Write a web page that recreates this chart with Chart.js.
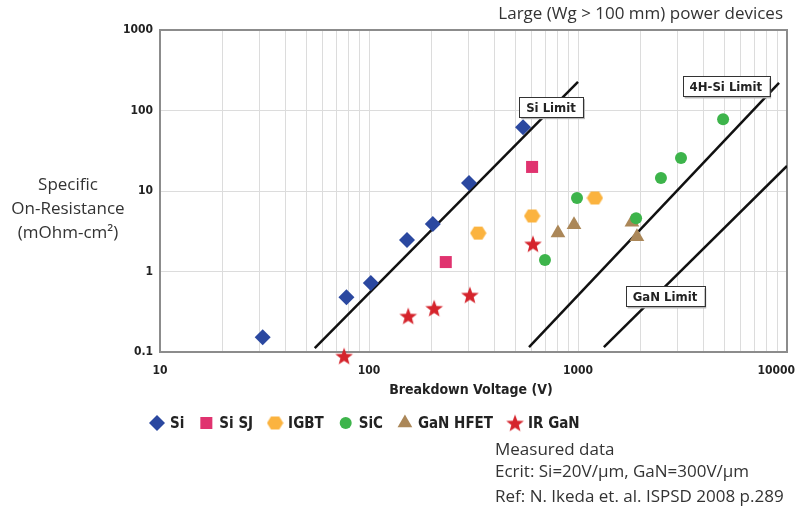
<!DOCTYPE html>
<html>
<head>
<meta charset="utf-8">
<script src="https://cdn.jsdelivr.net/npm/chart.js@4.4.1/dist/chart.umd.min.js"></script>
<style>
  html, body { margin: 0; padding: 0; background: #fff; }
  #wrap { position: relative; width: 798px; height: 518px; overflow: hidden; }
  #chart { position: absolute; left: 0; top: 0; }
  .txt { position: absolute; font-family: 'Open Sans', 'Noto Sans', sans-serif; color: #333; font-size: 17px; white-space: nowrap; line-height: 1; }
  .bold { font-family: 'Liberation Sans Narrow', 'DejaVu Sans Condensed', sans-serif; font-weight: bold; color: #222; }
</style>
</head>
<body>
<div id="wrap">
  <canvas id="chart" width="798" height="518"></canvas>
  <div class="txt" style="right:15px; top:4px;">Large (Wg &gt; 100 mm) power devices</div>
  <div class="txt" style="left:0; width:136px; top:172px; text-align:center; line-height:24px;">Specific<br>On-Resistance<br>(mOhm-cm²)</div>
  <div class="txt bold" style="left:371px; width:200px; top:382px; text-align:center; font-size:14px;">Breakdown Voltage (V)</div>
  <div class="txt" style="left:495px; top:440px;">Measured data</div>
  <div class="txt" style="left:495px; top:462px;">Ecrit: Si=20V/µm, GaN=300V/µm</div>
  <div class="txt" style="left:495px; top:487px;">Ref: N. Ikeda et. al. ISPSD 2008 p.289</div>
</div>
<script>
// ------- Data (breakdown voltage V, specific on-resistance mOhm-cm2) -------
const siVolt = [31, 78, 102, 152, 202, 301, 546];
const siRes = [0.153, 0.48, 0.72, 2.46, 3.9, 12.6, 62];
const sjVolt = [233, 603];
const sjRes = [1.31, 19.9];
const igbtVolt = [333, 603, 1205];
const igbtRes = [3.0, 4.9, 8.2];
const sicVolt = [695, 989, 1897, 2494, 3111, 4946];
const sicRes = [1.39, 8.2, 4.6, 14.5, 25.7, 78];
const hfetVolt = [802, 957, 1811, 1914];
const hfetRes = [3.0, 3.8, 4.1, 2.7];
const irVolt = [76, 154, 205, 304, 609];
const irRes = [0.089, 0.28, 0.35, 0.51, 2.2];

// theoretical limit lines (end points)
const siLimitVolt = [55, 1000];
const siLimitRes = [0.112, 226];
const sicLimitVolt = [583, 9160];
const sicLimitRes = [0.115, 220];
const ganLimitVolt = [1330, 10000];
const ganLimitRes = [0.115, 20.5];

const xTicks = [10, 20, 30, 40, 50, 60, 70, 80, 90, 100, 200, 300, 400, 500, 600, 700, 800, 900,
  1000, 2000, 3000, 4000, 5000, 6000, 7000, 8000, 9000, 10000];
const yTicks = [0.1, 1, 10, 100, 1000];

const limitNames = ['Si Limit', '4H-Si Limit', 'GaN Limit'];
const limitLabelVolt = [743, 5100, 2606];
const limitLabelRes = [110, 199, 0.49];

function pts(xs, ys) {
  return xs.map((x, i) => ({ x: x, y: ys[i] }));
}

// ------- custom markers -------
function hexMarker(color) {
  const c = document.createElement('canvas');
  c.width = 17; c.height = 15;
  const g = c.getContext('2d');
  g.fillStyle = color;
  g.beginPath();
  for (let i = 0; i < 6; i++) {
    const a = i * Math.PI / 3;
    const px = 8.5 + 8.2 * Math.cos(a);
    const py = 7.5 + 7.6 * Math.sin(a);
    if (i === 0) g.moveTo(px, py); else g.lineTo(px, py);
  }
  g.closePath();
  g.fill();
  return c;
}

function starMarker(color) {
  const c = document.createElement('canvas');
  c.width = 20; c.height = 19;
  const g = c.getContext('2d');
  g.fillStyle = color;
  g.beginPath();
  for (let i = 0; i < 10; i++) {
    const r = i % 2 === 0 ? 9.3 : 3.9;
    const a = -Math.PI / 2 + i * Math.PI / 5;
    const px = 10 + r * Math.cos(a);
    const py = 10.3 + r * Math.sin(a);
    if (i === 0) g.moveTo(px, py); else g.lineTo(px, py);
  }
  g.closePath();
  g.fill();
  return c;
}

const boldFamily = "'Liberation Sans Narrow', 'DejaVu Sans Condensed', sans-serif";
const tickFont = { family: boldFamily, size: 12, weight: 'bold' };

function markerSet(label, data, color, style, radius) {
  return {
    label: label,
    data: data,
    backgroundColor: color,
    borderWidth: 0,
    pointStyle: style,
    pointRadius: radius,
    pointHoverRadius: radius,
    clip: false,
    isMarker: true
  };
}

function limitSet(data) {
  return {
    label: '',
    data: data,
    showLine: true,
    borderColor: '#111',
    borderWidth: 2.5,
    pointRadius: 0,
    pointHoverRadius: 0,
    isMarker: false
  };
}

// ------- plugins -------
const frame = {
  id: 'frame',
  beforeDatasetsDraw(chart) {
    const a = chart.chartArea;
    const ctx = chart.ctx;
    ctx.save();
    ctx.strokeStyle = '#8c8c8c';
    ctx.lineWidth = 2;
    ctx.strokeRect(a.left, a.top, a.right - a.left, a.bottom - a.top);
    ctx.restore();
  }
};

const limitLabels = {
  id: 'limitLabels',
  afterDatasetsDraw(chart) {
    const ctx = chart.ctx;
    const xs = chart.scales.x, ys = chart.scales.y;
    ctx.save();
    ctx.font = 'bold 13px ' + boldFamily;
    ctx.textAlign = 'center';
    ctx.textBaseline = 'middle';
    limitNames.forEach((name, i) => {
      const cx = xs.getPixelForValue(limitLabelVolt[i]);
      const cy = ys.getPixelForValue(limitLabelRes[i]);
      const w = ctx.measureText(name).width + 14;
      const h = 20;
      ctx.fillStyle = '#b5b5b5';
      ctx.fillRect(cx - w / 2 + 2, cy - h / 2 + 2, w, h);
      ctx.fillStyle = '#fff';
      ctx.fillRect(cx - w / 2, cy - h / 2, w, h);
      ctx.strokeStyle = '#333';
      ctx.lineWidth = 1;
      ctx.strokeRect(Math.round(cx - w / 2) + 0.5, Math.round(cy - h / 2) + 0.5, Math.round(w), h);
      ctx.fillStyle = '#222';
      ctx.fillText(name, cx, cy + 1);
    });
    ctx.restore();
  }
};

const bottomLegend = {
  id: 'bottomLegend',
  afterDraw(chart) {
    const ctx = chart.ctx;
    const y = 423;
    let x = 149;
    ctx.save();
    ctx.font = 'bold 15px ' + boldFamily;
    ctx.textBaseline = 'middle';
    chart.data.datasets.forEach(ds => {
      if (!ds.isMarker) return;
      ctx.fillStyle = ds.backgroundColor;
      Chart.helpers.drawPoint(ctx, { pointStyle: ds.pointStyle, radius: ds.pointRadius, rotation: 0, borderWidth: 0 }, x + 8, y);
      ctx.fillStyle = '#222';
      ctx.fillText(ds.label, x + 21, y + 1);
      x += 21 + ctx.measureText(ds.label).width + 14;
    });
    ctx.restore();
  }
};

// ------- chart -------
new Chart(document.getElementById('chart'), {
  type: 'scatter',
  data: {
    datasets: [
      markerSet('Si', pts(siVolt, siRes), '#2b48a0', 'rectRot', 8),
      markerSet('Si SJ', pts(sjVolt, sjRes), '#e0336f', 'rect', 8.5),
      markerSet('IGBT', pts(igbtVolt, igbtRes), '#fbb33f', hexMarker('#fbb33f'), 8),
      markerSet('SiC', pts(sicVolt, sicRes), '#3db44b', 'circle', 6),
      markerSet('GaN HFET', pts(hfetVolt, hfetRes), '#ab8758', 'triangle', 8.5),
      markerSet('IR GaN', pts(irVolt, irRes), '#d5242c', starMarker('#d5242c'), 9),
      limitSet(pts(siLimitVolt, siLimitRes)),
      limitSet(pts(sicLimitVolt, sicLimitRes)),
      limitSet(pts(ganLimitVolt, ganLimitRes))
    ]
  },
  options: {
    responsive: false,
    animation: false,
    devicePixelRatio: 1,
    layout: { padding: { top: 30, right: 11, left: 0, bottom: 0 } },
    plugins: { legend: { display: false }, tooltip: { enabled: false } },
    scales: {
      x: {
        type: 'logarithmic',
        min: 10,
        max: 10000,
        afterBuildTicks: s => { s.ticks = xTicks.map(v => ({ value: v })); },
        afterFit: s => { s.height = 166; s.paddingLeft = 0; s.paddingRight = 0; },
        grid: { color: '#dcdcdc', lineWidth: 1, drawTicks: false },
        border: { display: false },
        ticks: {
          autoSkip: false,
          maxRotation: 0,
          padding: 12,
          color: '#222',
          font: tickFont,
          callback: v => {
            const l = Math.log10(v);
            if (Math.abs(l - Math.round(l)) > 1e-9) return '';
            // last label sits a little inside the right edge
            return v === xTicks[xTicks.length - 1] ? String(v) + '\u2003\u2003' : String(v);
          }
        }
      },
      y: {
        type: 'logarithmic',
        min: 0.1,
        max: 1000,
        afterBuildTicks: s => { s.ticks = yTicks.map(v => ({ value: v })); },
        afterFit: s => { s.width = 160; s.paddingTop = 0; s.paddingBottom = 0; },
        grid: { color: '#dcdcdc', lineWidth: 1, drawTicks: false },
        border: { display: false },
        ticks: {
          autoSkip: false,
          padding: 7,
          color: '#222',
          font: tickFont,
          callback: v => String(v)
        }
      }
    }
  },
  plugins: [frame, limitLabels, bottomLegend]
});
</script>
</body>
</html>
